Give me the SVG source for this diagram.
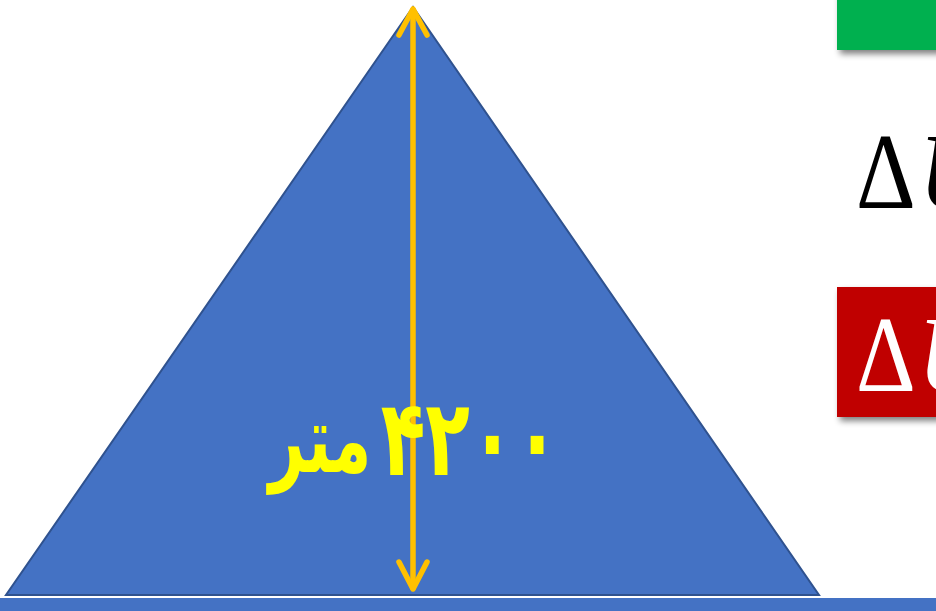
<svg xmlns="http://www.w3.org/2000/svg" width="936" height="611" viewBox="0 0 936 611">
<defs>
<filter id="sh" x="-20%" y="-20%" width="150%" height="160%">
<feGaussianBlur in="SourceAlpha" stdDeviation="3"/>
<feOffset dx="3" dy="4" result="b"/>
<feComponentTransfer><feFuncA type="linear" slope="0.5"/></feComponentTransfer>
<feMerge><feMergeNode/><feMergeNode in="SourceGraphic"/></feMerge>
</filter>
<style>
.arr{stroke:#FFC000;stroke-width:5.5;stroke-linecap:round;stroke-linejoin:round;fill:none}
.dl{font-family:"Liberation Serif","DejaVu Serif",serif;font-size:108px}
.fa{font-family:"DejaVu Sans","Noto Sans",sans-serif;font-weight:bold;fill:#FFFF00}
</style>
</defs>
<rect width="936" height="611" fill="#FFFFFF"/>
<g id="ground"><rect x="0" y="598" width="936" height="13" fill="#4472C4"/></g>
<g id="pyramid"><polygon points="413,7 6,595 819,595" fill="#4472C4" stroke="#2F528F" stroke-width="2"/></g>
<g id="green-box"><rect x="837" y="-10" width="120" height="60" fill="#00B050" filter="url(#sh)"/></g>
<g id="delta-black"><text class="dl" transform="translate(856,208) scale(0.86,1)" x="0" y="0" fill="#000000">Δ<tspan dx="4" font-style="italic">U</tspan></text></g>
<g id="red-box"><rect x="837" y="287" width="120" height="130" fill="#C00000" filter="url(#sh)"/>
<text class="dl" transform="translate(856,391) scale(0.86,1)" x="0" y="0" fill="#FFFFFF">Δ<tspan dx="3" font-style="italic">U</tspan></text></g>
<g id="connectors">
<line class="arr" x1="413" y1="10" x2="413" y2="588"/>
<polyline class="arr" points="399,35 413,9 427,35"/>
<polyline class="arr" points="399,562 413,589 427,562"/>
</g>
<g id="label">
<text class="fa" transform="translate(470,475) scale(0.69,1)" x="0" y="0" font-size="106" text-anchor="middle">۴۲۰۰</text>
<text class="fa" transform="translate(320,472) scale(0.66,1)" x="0" y="0" font-size="94" text-anchor="middle" direction="rtl">متر</text>
</g>
</svg>
